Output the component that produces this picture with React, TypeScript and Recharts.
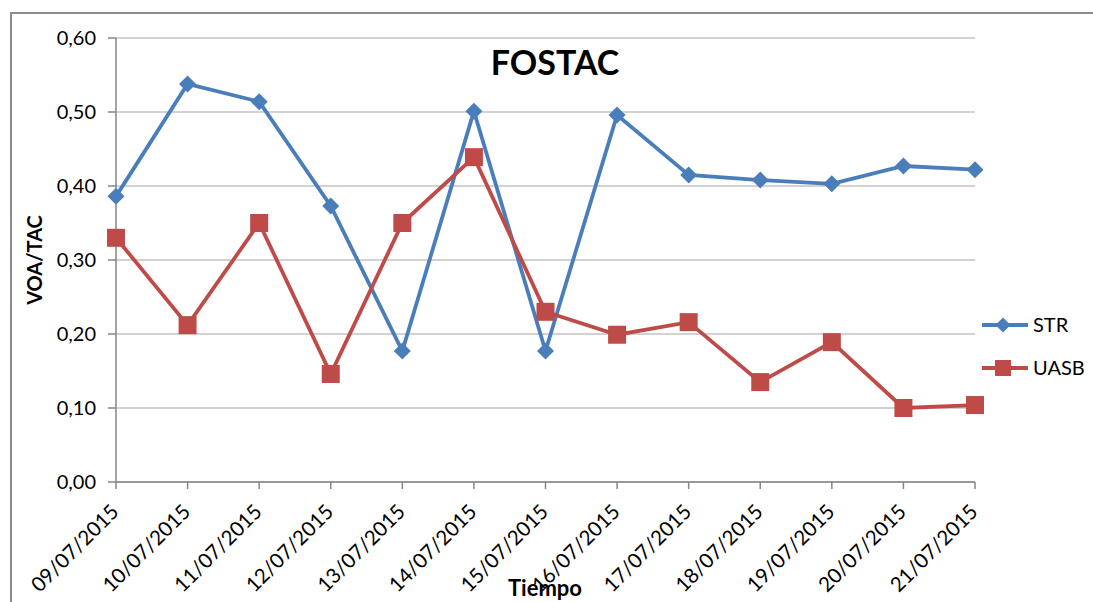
import { CartesianGrid, Legend, Line, LineChart, XAxis, YAxis } from "recharts";

const fechas = [
  "09/07/2015",
  "10/07/2015",
  "11/07/2015",
  "12/07/2015",
  "13/07/2015",
  "14/07/2015",
  "15/07/2015",
  "16/07/2015",
  "17/07/2015",
  "18/07/2015",
  "19/07/2015",
  "20/07/2015",
  "21/07/2015",
];
const str = [0.386, 0.538, 0.514, 0.373, 0.177, 0.501, 0.177, 0.496, 0.415, 0.408, 0.403, 0.427, 0.422];
const uasb = [0.33, 0.212, 0.35, 0.146, 0.35, 0.439, 0.23, 0.199, 0.216, 0.135, 0.189, 0.1, 0.104];
const yTicks = [0, 0.1, 0.2, 0.3, 0.4, 0.5, 0.6];

const data = fechas.map((fecha, i) => ({ fecha, STR: str[i], UASB: uasb[i] }));

const BLUE = "#4A7EBB";
const RED = "#BE4B48";
const FONT = "Lato, 'Open Sans', sans-serif";

const Diamond = ({ cx, cy, fill, r = 8.5 }: { cx: number; cy: number; fill: string; r?: number }) => (
  <path d={`M${cx},${cy - r}L${cx + r},${cy}L${cx},${cy + r}L${cx - r},${cy}Z`} fill={fill} />
);

const Square = ({ cx, cy, fill, r = 9 }: { cx: number; cy: number; fill: string; r?: number }) => (
  <rect x={cx - r} y={cy - r} width={r * 2} height={r * 2} fill={fill} />
);

// rotated date labels, anchored at their right end just below the tick
const DateTick = ({ x, y, payload }: { x: number; y: number; payload: { value: string } }) => (
  <text
    x={x + 4}
    y={y + 22}
    transform={`rotate(-45, ${x + 4}, ${y + 22})`}
    textAnchor="end"
    fontSize={20.5}
    fontFamily={FONT}
    fill="#000"
  >
    {payload.value}
  </text>
);

const LegendBox = () => (
  <svg width={110} height={80}>
    {[
      { name: "STR", color: BLUE, y: 15 },
      { name: "UASB", color: RED, y: 58 },
    ].map((s) => (
      <g key={s.name}>
        <line x1={2} x2={48} y1={s.y} y2={s.y} stroke={s.color} strokeWidth={3.8} />
        {s.name === "STR" ? (
          <Diamond cx={23} cy={s.y} fill={s.color} r={7.5} />
        ) : (
          <Square cx={23} cy={s.y} fill={s.color} r={8} />
        )}
        <text x={53} y={s.y} dy="0.36em" fontSize={20} fontFamily={FONT} fill="#000">
          {s.name}
        </text>
      </g>
    ))}
  </svg>
);

const App = () => {
  return (
    <div
      style={{
        position: "fixed",
        left: 0,
        top: 0,
        width: 1093,
        height: 602,
        overflow: "hidden",
        background: "#fff",
      }}
    >
      <div
        style={{
          position: "absolute",
          left: 10,
          top: 12,
          width: 1200,
          height: 700,
          border: "2px solid #8c8c8c",
        }}
      />
      <div style={{ position: "absolute", left: 0, top: 0 }}>
        <LineChart
          width={1093}
          height={602}
          data={data}
          margin={{ top: 38, right: 118, bottom: 0, left: 11 }}
        >
          <CartesianGrid vertical={false} stroke="#a6a6a6" strokeWidth={1.2} />
          <XAxis
            dataKey="fecha"
            height={120}
            stroke="#868686"
            strokeWidth={1.5}
            tickSize={7}
            tickMargin={2}
            interval={0}
            tick={(props) => <DateTick {...props} />}
          />
          <YAxis
            width={105}
            domain={[0, 0.6]}
            ticks={yTicks}
            stroke="#868686"
            strokeWidth={1.5}
            tickSize={8}
            tickMargin={12}
            tick={{ fill: "#000", fontSize: 20, fontFamily: FONT }}
            tickFormatter={(v: number) => v.toFixed(2).replace(".", ",")}
          />
          <Line
            dataKey="STR"
            stroke={BLUE}
            strokeWidth={3.8}
            isAnimationActive={false}
            dot={(p: any) => <Diamond key={`s${p.index}`} cx={p.cx} cy={p.cy} fill={BLUE} />}
            activeDot={false}
          />
          <Line
            dataKey="UASB"
            stroke={RED}
            strokeWidth={3.8}
            isAnimationActive={false}
            dot={(p: any) => <Square key={`u${p.index}`} cx={p.cx} cy={p.cy} fill={RED} />}
            activeDot={false}
          />
          <Legend
            layout="horizontal"
            verticalAlign="middle"
            align="center"
            wrapperStyle={{ left: 980, top: 310, width: 110, height: 80 }}
            content={() => <LegendBox />}
          />
          <text x={555} y={75} textAnchor="middle" fontSize={34} fontWeight={700} fontFamily={FONT} fill="#000">
            FOSTAC
          </text>
          <text
            x={35}
            y={260}
            transform="rotate(-90, 35, 260)"
            dy="0.36em"
            textAnchor="middle"
            fontSize={20}
            fontWeight={700}
            fontFamily={FONT}
            fill="#000"
          >
            VOA/TAC
          </text>
          <text x={545} y={596} textAnchor="middle" fontSize={22} fontWeight={700} fontFamily={FONT} fill="#000">
            Tiempo
          </text>
        </LineChart>
      </div>
    </div>
  );
};

export default App;
